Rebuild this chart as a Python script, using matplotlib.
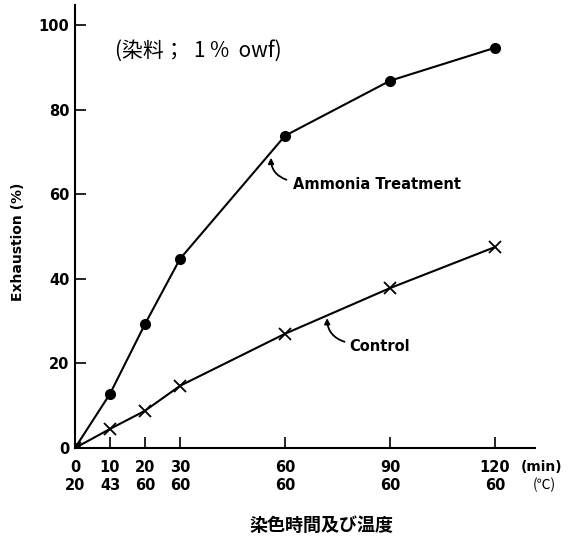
import matplotlib
matplotlib.use("Agg")
import matplotlib.pyplot as plt

plt.rcParams['font.family'] = ['DejaVu Sans', 'Noto Sans CJK JP']

# Data
time_min = [0, 10, 20, 30, 60, 90, 120]
temp_c = [20, 43, 60, 60, 60, 60, 60]
ammonia = [0, 12.8, 29.3, 44.7, 73.8, 86.8, 94.6]
control = [0, 4.5, 8.8, 14.7, 27.0, 37.8, 47.5]
yticks = [0, 20, 40, 60, 80, 100]
xtick_labels = [f"{t}\n{c}" for t, c in zip(time_min, temp_c)]

fig = plt.figure(figsize=(5.68, 5.41), dpi=100)
ax = fig.add_axes([75/568, 1-448/541, (535-75)/568, (448-5)/541])

ax.plot(time_min, ammonia, color='black', lw=1.5, marker='o', ms=7,
        markerfacecolor='black', markeredgecolor='black')
ax.plot(time_min, control, color='black', lw=1.5, marker='x', ms=8, mew=1.3)

ax.set_xlim(0, 131.4)
ax.set_ylim(0, 104.7)
ax.set_xticks(time_min)
ax.set_xticklabels(xtick_labels, fontsize=10.5, linespacing=1.2, fontweight='bold')
ax.set_yticks(yticks)
ax.set_yticklabels([str(v) for v in yticks], fontsize=10.5, fontweight='bold')
ax.tick_params(axis='x', direction='in', length=8, width=1.2, pad=9)
ax.tick_params(axis='y', direction='in', length=8, width=1.2, pad=4)
for s in ['top', 'right']:
    ax.spines[s].set_visible(False)
for s in ['left', 'bottom']:
    ax.spines[s].set_linewidth(1.5)

ax.text(133.3, -4.5, '(min)', fontsize=10, fontweight='bold', ha='center', va='center', clip_on=False)
ax.text(134.0, -8.7, '(℃)', fontsize=10, ha='center', va='center', clip_on=False,
        family=['Noto Sans CJK JP', 'DejaVu Sans'])

ax.text(11.5, 93.8, '(染料；  1 %  owf)', fontsize=15, ha='left', va='center',
        family=['Noto Sans CJK JP', 'DejaVu Sans'])

# Annotations
ax.text(62.3, 62.2, 'Ammonia Treatment', fontsize=10.5, fontweight='bold', ha='left', va='center')
ax.annotate('', xy=(56.0, 68.6), xytext=(60.4, 63.4),
            arrowprops=dict(arrowstyle='-|>', color='black', lw=1.3, mutation_scale=8,
                            connectionstyle='arc3,rad=-0.35', shrinkA=0, shrinkB=0))
ax.text(78.3, 24.1, 'Control', fontsize=10.5, fontweight='bold', ha='left', va='center')
ax.annotate('', xy=(72.0, 30.7), xytext=(77.0, 25.1),
            arrowprops=dict(arrowstyle='-|>', color='black', lw=1.3, mutation_scale=8,
                            connectionstyle='arc3,rad=-0.35', shrinkA=0, shrinkB=0))

fig.text(18/568, 1-242/541, 'Exhaustion (%)', fontsize=10, fontweight='bold',
         rotation=90, ha='center', va='center')
fig.text(321/568, 1-525/541, '染色時間及び温度', fontsize=13, fontweight='bold',
         ha='center', va='center', family=['Noto Sans CJK JP', 'DejaVu Sans'])

fig.savefig('out.png', dpi=100)
